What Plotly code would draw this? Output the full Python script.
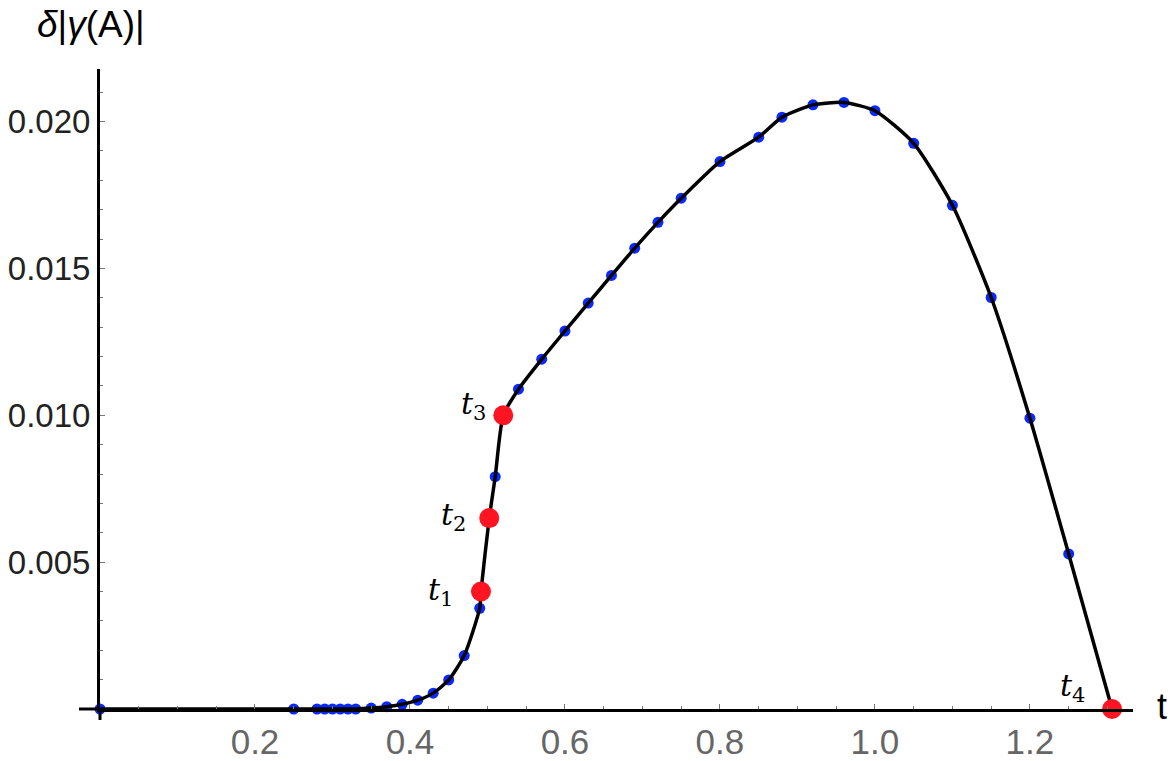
import plotly.graph_objects as go

# ---- data ----
t_blue = [0.0, 0.25, 0.28, 0.29, 0.30, 0.31, 0.32, 0.33, 0.35, 0.37, 0.39, 0.41,
          0.43, 0.45, 0.47, 0.49, 0.51, 0.54, 0.57, 0.60, 0.63, 0.66, 0.69, 0.72,
          0.75, 0.80, 0.85, 0.88, 0.92, 0.96, 1.00, 1.05, 1.10, 1.15, 1.20, 1.25]
d_blue = [0.0, 0.0, 0.0, 0.0, 0.0, 0.0, 0.0, 0.0, 0.00003, 0.00008, 0.00016, 0.0003,
          0.00054, 0.00099, 0.00182, 0.00343, 0.00791, 0.01089, 0.01191, 0.01287,
          0.01382, 0.01476, 0.01569, 0.01657, 0.01739, 0.01864, 0.01947, 0.02015,
          0.02057, 0.02065, 0.02037, 0.01926, 0.01715, 0.01401, 0.00990, 0.00528]

t_red = [0.4916, 0.5023, 0.5204, 1.306]
d_red = [0.0040, 0.0065, 0.0100, 0.0]
red_labels = ["<i>t</i><sub>1</sub>", "<i>t</i><sub>2</sub>",
              "<i>t</i><sub>3</sub>", "<i>t</i><sub>4</sub>"]

x_tickvals = [0.2, 0.4, 0.6, 0.8, 1.0, 1.2]
x_ticktext = ["0.2", "0.4", "0.6", "0.8", "1.0", "1.2"]
y_tickvals = [0.005, 0.010, 0.015, 0.020]
y_ticktext = ["0.005", "0.010", "0.015", "0.020"]

x_range = [0, 1.333]
y_range = [0, 0.02179]

# curve through all points
pts = sorted(zip(t_blue + t_red, d_blue + d_red))
t_curve = [p[0] for p in pts]
d_curve = [p[1] for p in pts]

# ---- layout geometry ----
W, H = 1175, 761
ML, MR, MT, MB = 100, 42, 69, 52
PW, PH = W - ML - MR, H - MT - MB

fig = go.Figure()

fig.add_trace(go.Scatter(
    x=t_blue, y=d_blue, mode="markers",
    marker=dict(color="#0a28ff", size=11, line=dict(width=0)),
    hoverinfo="skip", showlegend=False, cliponaxis=False))

fig.add_trace(go.Scatter(
    x=t_curve, y=d_curve, mode="lines",
    line=dict(color="black", width=3.5, shape="spline", smoothing=0.6),
    hoverinfo="skip", showlegend=False, cliponaxis=False))

fig.add_trace(go.Scatter(
    x=t_red, y=d_red, mode="markers",
    marker=dict(color="#ff1421", size=20, line=dict(width=0)),
    hoverinfo="skip", showlegend=False, cliponaxis=False))

label_shift = [(-40, 0), (-36, 2), (-30, 10), (-40, 22)]
for tx, dy, lab, (xs, ys) in zip(t_red, d_red, red_labels, label_shift):
    fig.add_annotation(x=tx, y=dy, xref="x", yref="y", text=lab,
                       showarrow=False, xshift=xs, yshift=ys,
                       xanchor="center", yanchor="middle",
                       font=dict(family="DejaVu Serif", size=30, color="black"))

axis_common = dict(showgrid=False, zeroline=False, showline=True,
                   linecolor="black", linewidth=3, ticks="inside",
                   tickcolor="#777", tickwidth=1, fixedrange=True)

fig.update_xaxes(range=x_range, tickmode="array", tickvals=x_tickvals,
                 ticktext=x_ticktext, ticklen=5,
                 tickfont=dict(family="Liberation Sans", size=35, color="#666"),
                 minor=dict(ticks="inside", dtick=0.05, tick0=0, ticklen=3,
                            tickcolor="#777", tickwidth=1),
                 **axis_common)
fig.update_yaxes(range=y_range, tickmode="array", tickvals=y_tickvals,
                 ticktext=y_ticktext, ticklen=5,
                 tickfont=dict(family="Liberation Sans", size=33, color="#222"),
                 minor=dict(ticks="inside", dtick=0.001, tick0=0, ticklen=3,
                            tickcolor="#777", tickwidth=1),
                 **axis_common)

# axis extensions past the origin
fig.add_shape(type="line", xref="paper", yref="paper",
              x0=-21 / PW, x1=0, y0=0, y1=0,
              line=dict(color="black", width=3))
fig.add_shape(type="line", xref="paper", yref="paper",
              x0=0, x1=0, y0=-11 / PH, y1=0,
              line=dict(color="black", width=3))

# axis labels
fig.add_annotation(xref="paper", yref="paper", x=(1162 - ML) / PW, y=0,
                   yshift=3, text="t", showarrow=False,
                   xanchor="center", yanchor="middle",
                   font=dict(family="Liberation Sans", size=36, color="black"))
fig.add_annotation(xref="paper", yref="paper", x=(91 - ML) / PW,
                   y=(H - MB - 24) / PH, text="<i>δ</i>|<i>γ</i>(A)|",
                   showarrow=False, xanchor="center", yanchor="middle",
                   font=dict(family="Liberation Sans", size=37, color="black"))

fig.update_layout(width=W, height=H,
                  margin=dict(l=ML, r=MR, t=MT, b=MB, autoexpand=False),
                  paper_bgcolor="white", plot_bgcolor="white")

fig.write_html("out.html",
               config={"displayModeBar": False, "staticPlot": True},
               post_script="document.body.style.margin='0';"
                           "document.body.style.padding='0';")
